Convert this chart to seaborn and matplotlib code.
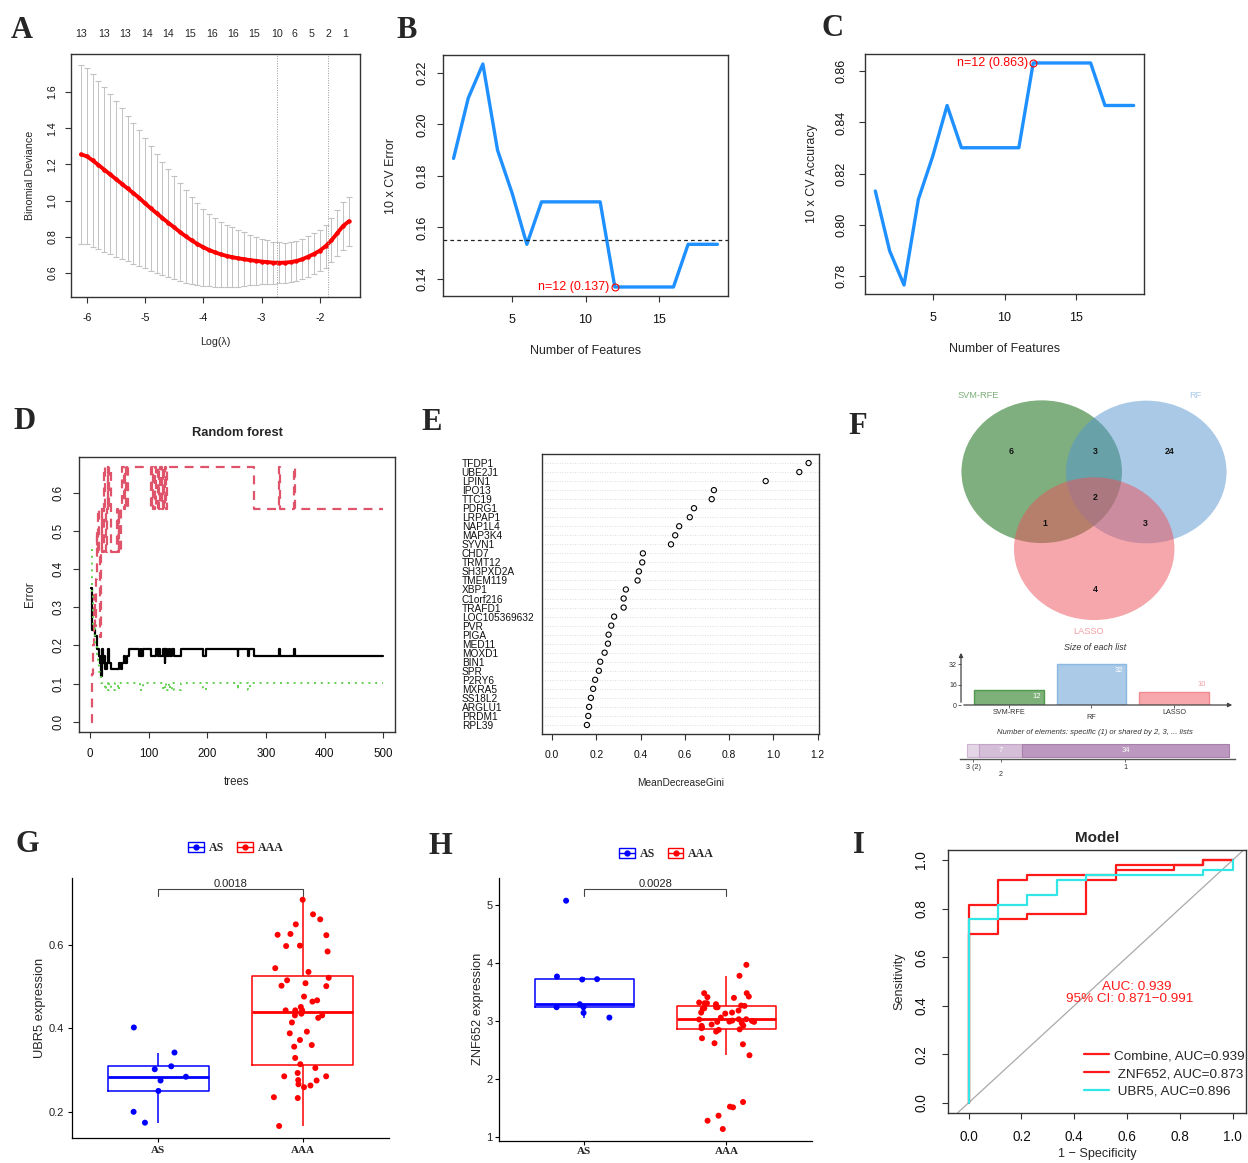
import numpy as np
import pandas as pd
import matplotlib
matplotlib.use("Agg")
import matplotlib.pyplot as plt
import seaborn as sns
from matplotlib.patches import Ellipse, Patch
from matplotlib.lines import Line2D
from matplotlib.legend_handler import HandlerTuple

# ============================ DATA ============================
# A: LASSO 10-fold CV
lasso_loglambda = [-6.1, -6.0, -5.9, -5.8, -5.7, -5.6, -5.5, -5.4, -5.3, -5.2, -5.1, -5.0,
                   -4.9, -4.8, -4.7, -4.6, -4.5, -4.4, -4.3, -4.2, -4.1, -4.0, -3.9, -3.8,
                   -3.7, -3.6, -3.5, -3.4, -3.3, -3.2, -3.1, -3.0, -2.9, -2.8, -2.7, -2.6,
                   -2.5, -2.4, -2.3, -2.2, -2.1, -2.0, -1.9, -1.8, -1.7, -1.6, -1.5]
lasso_cvm = [1.255, 1.245, 1.222, 1.197, 1.171, 1.145, 1.119, 1.093, 1.067, 1.041, 1.015, 0.985,
             0.957, 0.930, 0.903, 0.877, 0.852, 0.826, 0.802, 0.780, 0.760, 0.742, 0.727, 0.714,
             0.703, 0.694, 0.687, 0.681, 0.676, 0.671, 0.667, 0.663, 0.660, 0.657, 0.656, 0.657,
             0.660, 0.666, 0.676, 0.690, 0.705, 0.723, 0.748, 0.780, 0.820, 0.860, 0.885]
lasso_cvsd = [0.495, 0.487, 0.477, 0.466, 0.455, 0.443, 0.430, 0.417, 0.403, 0.389, 0.375, 0.360,
              0.344, 0.328, 0.312, 0.298, 0.285, 0.270, 0.255, 0.240, 0.225, 0.212, 0.200, 0.190,
              0.180, 0.172, 0.165, 0.156, 0.148, 0.140, 0.132, 0.125, 0.120, 0.116, 0.113, 0.111,
              0.110, 0.110, 0.111, 0.112, 0.113, 0.115, 0.118, 0.122, 0.127, 0.132, 0.136]
lasso_df_pos = [-6.09, -5.71, -5.35, -4.97, -4.61, -4.23, -3.85, -3.49, -3.12, -2.74, -2.43, -2.14, -1.86, -1.57]
lasso_df = [13, 13, 13, 14, 14, 15, 16, 16, 15, 10, 6, 5, 2, 1]
lasso_lambda_lines = [-2.74, -1.86]

# B / C: SVM-RFE
rfe_features = [1, 2, 3, 4, 5, 6, 7, 8, 9, 10, 11, 12, 13, 14, 15, 16, 17, 18, 19]
rfe_error = [0.1868, 0.2102, 0.2235, 0.1900, 0.1732, 0.1534, 0.1699, 0.1699, 0.1699, 0.1699,
             0.1699, 0.1368, 0.1368, 0.1368, 0.1368, 0.1368, 0.1534, 0.1534, 0.1534]
rfe_accuracy = [0.8132, 0.7898, 0.7765, 0.8100, 0.8268, 0.8466, 0.8301, 0.8301, 0.8301, 0.8301,
                0.8301, 0.8632, 0.8632, 0.8632, 0.8632, 0.8632, 0.8466, 0.8466, 0.8466]
rfe_error_ref = 0.1552

# D: random forest error vs trees (change points)
oob_tree = [1, 4, 8, 12, 15, 17, 19, 20, 22, 24, 26, 28, 30, 33, 36, 49, 53, 55, 57, 60,
            63, 67, 83, 86, 87, 90, 103, 113, 115, 118, 120, 125, 127, 128, 131, 135, 137, 140, 143, 155,
            193, 198, 252, 253, 270, 271, 279, 322, 323, 348, 349, 500]
oob_err = [0.35, 0.241, 0.224, 0.19, 0.172, 0.155, 0.121, 0.19, 0.155, 0.172,
           0.138, 0.155, 0.19, 0.155, 0.138, 0.155, 0.138, 0.155, 0.172, 0.155,
           0.172, 0.19, 0.172, 0.19, 0.172, 0.19, 0.172, 0.19, 0.172, 0.19,
           0.172, 0.19, 0.155, 0.19, 0.172, 0.19, 0.172, 0.19, 0.172, 0.19,
           0.172, 0.19, 0.172, 0.19, 0.172, 0.19, 0.172, 0.19, 0.172, 0.19, 0.172, 0.172]
as_tree = [1, 3, 5, 7, 9, 10, 11, 12, 13, 15, 16, 17, 18, 20, 21, 23, 25, 27, 28, 30,
           31, 33, 35, 45, 47, 49, 50, 52, 55, 57, 60, 62, 65, 103, 105, 107, 110, 112, 115, 117,
           120, 122, 124, 126, 128, 130, 131, 279, 322, 323, 348, 349, 500]
as_err = [0.0, 0.125, 0.2, 0.333, 0.25, 0.375, 0.5, 0.444, 0.556, 0.444,
          0.333, 0.222, 0.444, 0.556, 0.444, 0.667, 0.556, 0.444, 0.556, 0.667,
          0.556, 0.667, 0.444, 0.556, 0.444, 0.556, 0.444, 0.556, 0.667, 0.556,
          0.667, 0.556, 0.667, 0.556, 0.667, 0.556, 0.667, 0.556, 0.667, 0.556,
          0.667, 0.556, 0.667, 0.556, 0.667, 0.556, 0.667, 0.556, 0.667, 0.556, 0.667, 0.556, 0.556]
aaa_tree = [1, 3, 5, 8, 11, 13, 15, 17, 19, 25, 27, 30, 33, 35, 43, 47, 50, 85, 90, 125,
            127, 130, 135, 137, 140, 143, 155, 193, 198, 252, 253, 270, 272, 500]
aaa_err = [0.45, 0.333, 0.25, 0.2, 0.17, 0.15, 0.13, 0.12, 0.102, 0.082,
           0.102, 0.082, 0.102, 0.082, 0.102, 0.082, 0.102, 0.082, 0.102, 0.082,
           0.102, 0.082, 0.102, 0.082, 0.102, 0.082, 0.102, 0.082, 0.102, 0.082,
           0.102, 0.082, 0.102, 0.102]

# E: MeanDecreaseGini
rf_genes = ["TFDP1", "UBE2J1", "LPIN1", "IPO13", "TTC19", "PDRG1", "LRPAP1", "NAP1L4", "MAP3K4",
            "SYVN1", "CHD7", "TRMT12", "SH3PXD2A", "TMEM119", "XBP1", "C1orf216", "TRAFD1",
            "LOC105369632", "PVR", "PIGA", "MED11", "MOXD1", "BIN1", "SPR", "P2RY6", "MXRA5",
            "SS18L2", "ARGLU1", "PRDM1", "RPL39"]
rf_gini = [1.159, 1.117, 0.965, 0.731, 0.721, 0.641, 0.622, 0.574, 0.556, 0.537, 0.410, 0.407,
           0.392, 0.386, 0.333, 0.323, 0.323, 0.280, 0.267, 0.255, 0.252, 0.237, 0.217, 0.211,
           0.194, 0.185, 0.175, 0.167, 0.163, 0.157]

# F: Venn
list_names = ["SVM-RFE", "RF", "LASSO"]
list_sizes = [12, 32, 10]
venn_counts = [6, 3, 24, 2, 1, 3, 4]   # S only, S&R, R only, all, S&L, R&L, L only
shared_levels = ["3", "2", "1"]
shared_counts = [2, 7, 34]

# G / H: expression
ubr5_as = [0.402, 0.342, 0.302, 0.309, 0.284, 0.275, 0.250, 0.200, 0.174]
ubr5_aaa = [0.708, 0.673, 0.661, 0.649, 0.624, 0.626, 0.623, 0.597, 0.598, 0.584, 0.544, 0.535,
            0.521, 0.515, 0.508, 0.501, 0.502, 0.476, 0.467, 0.464, 0.451, 0.443, 0.443, 0.443,
            0.435, 0.431, 0.431, 0.425, 0.414, 0.392, 0.388, 0.372, 0.356, 0.360, 0.329, 0.314,
            0.305, 0.293, 0.285, 0.285, 0.275, 0.276, 0.266, 0.263, 0.259, 0.233, 0.235, 0.166]
znf_as = [5.075, 3.770, 3.718, 3.724, 3.293, 3.241, 3.241, 3.144, 3.063]
znf_aaa = [3.971, 3.782, 3.483, 3.425, 3.483, 3.414, 3.402, 3.322, 3.310, 3.293,
           3.310, 3.270, 3.264, 3.241, 3.241, 3.224, 3.213, 3.184, 3.149, 3.149,
           3.132, 3.063, 3.034, 3.034, 3.011, 2.994, 3.006, 2.989, 2.989, 2.943,
           2.925, 2.920, 2.851, 2.891, 2.822, 2.707, 2.621, 2.603, 2.414, 1.609,
           1.529, 1.517, 1.374, 1.287, 1.144, 2.860, 2.880, 3.030, 2.966]
pvals = ["0.0018", "0.0028"]
bracket_y = [(0.718, 0.734), (5.161, 5.276)]

# I: ROC
roc_combine_fpr = [0, 0, 0.111, 0.111, 0.222, 0.222, 0.556, 0.556, 0.889, 0.889, 1.0]
roc_combine_tpr = [0, 0.816, 0.816, 0.918, 0.918, 0.939, 0.939, 0.980, 0.980, 1.0, 1.0]
roc_znf_fpr = [0, 0, 0.111, 0.111, 0.222, 0.222, 0.444, 0.444, 0.556, 0.556, 0.778, 0.778, 0.889, 0.889, 1.0]
roc_znf_tpr = [0, 0.694, 0.694, 0.755, 0.755, 0.776, 0.776, 0.918, 0.918, 0.959, 0.959, 0.980, 0.980, 1.0, 1.0]
roc_ubr5_fpr = [0, 0, 0.111, 0.111, 0.222, 0.222, 0.333, 0.333, 0.444, 0.444, 0.889, 0.889, 1.0, 1.0]
roc_ubr5_tpr = [0, 0.755, 0.755, 0.816, 0.816, 0.857, 0.857, 0.918, 0.918, 0.939, 0.939, 0.959, 0.959, 1.0]
roc_labels = ["Combine, AUC=0.939", " ZNF652, AUC=0.873", " UBR5, AUC=0.896"]
auc_text = ["AUC: 0.939", "95% CI: 0.871\u22120.991"]

# ============================ STYLE ============================
sns.set_theme(style="white")
plt.rcParams["font.family"] = ["Liberation Sans", "DejaVu Sans"]
plt.rcParams["axes.unicode_minus"] = False

W, H = 1248, 1163
fig = plt.figure(figsize=(W / 100, H / 100), dpi=100)
fig.patch.set_facecolor("white")


def add_ax(x0, y0, x1, y1):
    return fig.add_axes([x0 / W, 1 - y1 / H, (x1 - x0) / W, (y1 - y0) / H])


EDGE = "#333333"
SERIF = ["Liberation Serif", "DejaVu Serif"]


def r_style(ax, fs, padx, pady, rot=True):
    for s in ax.spines.values():
        s.set_visible(True)
        s.set_color(EDGE)
        s.set_linewidth(1.0)
    ax.set_facecolor("white")
    ax.grid(False)
    ax.tick_params(axis="both", direction="out", length=4.3, width=0.8, color=EDGE,
                   labelsize=fs, labelcolor="#111111")
    ax.tick_params(axis="x", bottom=True, top=False, pad=padx)
    ax.tick_params(axis="y", left=True, right=False, pad=pady, labelrotation=90 if rot else 0)
    if rot:
        for t in ax.get_yticklabels():
            t.set_va("center")


def gg_style(ax, padx, pady):
    ax.set_facecolor("white")
    ax.grid(False)
    for s in ["top", "right"]:
        ax.spines[s].set_visible(False)
    for s in ["left", "bottom"]:
        ax.spines[s].set_visible(True)
        ax.spines[s].set_color("black")
        ax.spines[s].set_linewidth(0.9)
    ax.tick_params(axis="both", direction="out", length=2.75, width=0.8, color="black",
                   labelsize=8, labelcolor="#222222")
    ax.tick_params(axis="x", bottom=True, pad=padx)
    ax.tick_params(axis="y", left=True, pad=pady)


def letter(x, y, s):
    fig.text(x / W, 1 - y / H, s, ha="center", va="center", fontsize=22,
             fontweight="bold", family=SERIF)


# ============================ A ============================
axA = add_ax(71, 54, 360, 297)
axA.errorbar(lasso_loglambda, lasso_cvm, yerr=lasso_cvsd, fmt="none", ecolor="#C2C2C2",
             elinewidth=0.7, capsize=2.0, capthick=0.8)
sns.lineplot(x=lasso_loglambda, y=lasso_cvm, color="red", marker="o", markersize=3.2,
             markeredgewidth=0, lw=2.8, ax=axA)
for v in lasso_lambda_lines:
    axA.axvline(v, color="#9A9A9A", lw=0.7, ls=(0, (1, 1.5)))
axA.set_xlim(-6.27, -1.31)
axA.set_ylim(0.467, 1.81)
axA.set_xticks([-6, -5, -4, -3, -2])
axA.set_yticks([0.6, 0.8, 1.0, 1.2, 1.4, 1.6], labels=["0.6", "0.8", "1.0", "1.2", "1.4", "1.6"])
r_style(axA, 7.7, 7, 5.4)
axA.set_xlabel("Log(\u03bb)", fontsize=7.7, labelpad=10)
axA.set_ylabel("Binomial Deviance", fontsize=7.7, labelpad=9)
secA = axA.secondary_xaxis("top")
secA.set_xticks(lasso_df_pos, labels=[str(v) for v in lasso_df])
secA.tick_params(length=0, pad=11, labelsize=7.7)
secA.spines["top"].set_visible(False)

# ============================ B ============================
axB = add_ax(443, 55, 728, 296)
sns.lineplot(x=rfe_features, y=rfe_error, color="#1E90FF", lw=2.4, ax=axB)
axB.axhline(rfe_error_ref, color="#222222", lw=0.9, ls=(0, (3, 2.5)))
ib = int(np.argmin(rfe_error))
axB.plot(rfe_features[ib], rfe_error[ib], "o", mfc="none", mec="red", ms=5, mew=0.8)
axB.annotate(f"n={rfe_features[ib]} ({rfe_error[ib]:.3f})", xy=(rfe_features[ib], rfe_error[ib]),
             xytext=(-4, 0), textcoords="offset points", ha="right", va="center",
             color="red", fontsize=9)
axB.set_xlim(0.28, 19.72)
axB.set_ylim(0.1333, 0.2270)
axB.set_xticks([5, 10, 15])
axB.set_yticks([0.14, 0.16, 0.18, 0.20, 0.22], labels=["0.14", "0.16", "0.18", "0.20", "0.22"])
r_style(axB, 9, 8.6, 6.5)
axB.set_xlabel("Number of Features", fontsize=9, labelpad=14)
axB.set_ylabel("10 x CV Error", fontsize=9, labelpad=14)

# ============================ C ============================
axC = add_ax(865, 54, 1144, 294)
sns.lineplot(x=rfe_features, y=rfe_accuracy, color="#1E90FF", lw=2.4, ax=axC)
ic = int(np.argmax(rfe_accuracy))
axC.plot(rfe_features[ic], rfe_accuracy[ic], "o", mfc="none", mec="red", ms=5, mew=0.8)
axC.annotate(f"n={rfe_features[ic]} ({rfe_accuracy[ic]:.3f})", xy=(rfe_features[ic], rfe_accuracy[ic]),
             xytext=(-4, 0), textcoords="offset points", ha="right", va="center",
             color="red", fontsize=9)
axC.set_xlim(0.28, 19.72)
axC.set_ylim(0.7730, 0.8667)
axC.set_xticks([5, 10, 15])
axC.set_yticks([0.78, 0.80, 0.82, 0.84, 0.86], labels=["0.78", "0.80", "0.82", "0.84", "0.86"])
r_style(axC, 9, 8.6, 8)
axC.set_xlabel("Number of Features", fontsize=9, labelpad=14)
axC.set_ylabel("10 x CV Accuracy", fontsize=9, labelpad=13)

# ============================ D ============================
axD = add_ax(79, 457, 395, 732)
axD.plot(oob_tree, oob_err, drawstyle="steps-post", color="black", lw=1.6)
axD.plot(as_tree, as_err, drawstyle="steps-post", color="#DF536B", lw=1.6, ls=(0, (4, 3)))
axD.plot(aaa_tree, aaa_err, drawstyle="steps-post", color="#61D04F", lw=1.4, ls=(0, (1, 2.5)))
axD.set_xlim(-19, 520)
axD.set_ylim(-0.0267, 0.693)
axD.set_xticks([0, 100, 200, 300, 400, 500])
axD.set_yticks([0.0, 0.1, 0.2, 0.3, 0.4, 0.5, 0.6],
               labels=["0.0", "0.1", "0.2", "0.3", "0.4", "0.5", "0.6"])
r_style(axD, 8.3, 7, 5.8)
axD.set_xlabel("trees", fontsize=8.3, labelpad=12)
axD.set_ylabel("Error", fontsize=8.3, labelpad=12)
axD.set_title("Random forest", fontsize=9.3, fontweight="bold", pad=15)

# ============================ E ============================
axE = add_ax(542, 454, 819, 734)
ypos = np.arange(len(rf_genes), 0, -1)
for yv in ypos:
    axE.axhline(yv, color="#D3D3D3", lw=0.6, ls=(0, (1, 2)))
axE.scatter(rf_gini, ypos, s=14, facecolors="none", edgecolors="black", linewidths=0.8, zorder=3)
axE.set_xlim(-0.046, 1.206)
axE.set_ylim(0, 31)
axE.set_xticks([0.0, 0.2, 0.4, 0.6, 0.8, 1.0, 1.2],
               labels=["0.0", "0.2", "0.4", "0.6", "0.8", "1.0", "1.2"])
r_style(axE, 7.4, 7, 0, rot=False)
axE.set_yticks(ypos, labels=rf_genes)
axE.tick_params(axis="y", length=0, pad=57.8, labelsize=7.3)
for t in axE.get_yticklabels():
    t.set_ha("left")
axE.set_xlabel("MeanDecreaseGini", fontsize=7.3, labelpad=13)

# ============================ F ============================
venn_base = ["#006100", "#5595D1", "#ED5159"]
venn_label_col = ["#7EB07A", "#AACAE8", "#F2A0A6"]
axV = add_ax(860, 380, 1248, 640)
axV.set_xlim(860, 1248)
axV.set_ylim(640, 380)
axV.axis("off")
venn_centers = [(1041.7, 471.7), (1146.3, 472.0), (1094.2, 548.7)]
for (cx, cy), col in zip(venn_centers, venn_base):
    axV.add_patch(Ellipse((cx, cy), 160.5, 142.7, facecolor=col, alpha=0.5, edgecolor="none"))
venn_label_pos = [(1011, 452), (1095, 452), (1170, 452), (1095, 497), (1045, 524), (1145, 524), (1095, 589)]
for (px, py), c in zip(venn_label_pos, venn_counts):
    axV.text(px, py, str(c), ha="center", va="center", fontsize=6.3, fontweight="bold", color="#111111")
name_pos = [(978, 396), (1195, 396), (1088, 631)]
for (px, py), nm, col in zip(name_pos, list_names, venn_label_col):
    axV.text(px, py, nm, ha="center", va="center", fontsize=6.7, color=col)

fig.text(1095 / W, 1 - 647.5 / H, "Size of each list", ha="center", va="center",
         fontsize=6.4, style="italic", color="#333333")
axF2 = add_ax(961, 650, 1235, 705)
bx = np.arange(len(list_names))
bar_fill = ["#7EB07A", "#AACAE8", "#F6A8AC"]
bar_edge = ["#4E9A4A", "#8DB8E0", "#F08A90"]
axF2.bar(bx, list_sizes, width=0.844, color=bar_fill, edgecolor=bar_edge, linewidth=1.0)
axF2.set_xlim(-0.579, 2.739)
axF2.set_ylim(0, 43)
for i, v in enumerate(list_sizes):
    if v >= 12:
        axF2.text(i + 0.335, v - 5.3, str(v), ha="center", va="center", fontsize=5.5, color="white")
    else:
        axF2.text(i + 0.335, v + 6.4, str(v), ha="center", va="center", fontsize=5.5, color=venn_label_col[i])
for s in axF2.spines.values():
    s.set_visible(False)
axF2.set_facecolor("none")
axF2.annotate("", xy=(1.0, 0), xytext=(0, 0), xycoords="axes fraction",
              arrowprops=dict(arrowstyle="-|>", color="#444444", lw=0.9, mutation_scale=6))
axF2.annotate("", xy=(0, 1.0), xytext=(0, 0), xycoords="axes fraction",
              arrowprops=dict(arrowstyle="-|>", color="#444444", lw=0.9, mutation_scale=6))
axF2.set_yticks([0, 16, 32], labels=["0", "16", "32"])
axF2.set_xticks(bx, labels=[""] * len(bx))
axF2.tick_params(axis="y", left=True, length=2, width=0.6, color="#444444", pad=1, labelsize=5, labelcolor="#333333")
axF2.tick_params(axis="x", bottom=True, length=2, width=0.6, color="#444444")
for i, nm in enumerate(list_names):
    off = -9.1 if i % 2 == 1 else -5.3
    axF2.annotate(nm, xy=(i, 0), xycoords=("data", "axes fraction"), xytext=(0, off),
                  textcoords="offset points", ha="center", va="center", fontsize=5.2, color="#333333")

fig.text(1095 / W, 1 - 732.7 / H, "Number of elements: specific (1) or shared by 2, 3, ... lists",
         ha="center", va="center", fontsize=5.5, style="italic", color="#333333")
axF3 = add_ax(960, 738, 1235, 759)
seg_fill = ["#E4D6E6", "#D5BED8", "#BC97BF"]
seg_edge = ["#CDB4D0", "#C3A6C7", "#A880AC"]
lefts = np.concatenate([[0], np.cumsum(shared_counts)[:-1]])
axF3.barh([0.405] * 3, shared_counts, left=lefts, height=0.59, color=seg_fill, edgecolor=seg_edge, linewidth=0.8)
axF3.set_xlim(-1.2, 44.0)
axF3.set_ylim(0, 1)
axF3.set_facecolor("none")
for s in ["top", "right", "left"]:
    axF3.spines[s].set_visible(False)
axF3.spines["bottom"].set_color("#555555")
axF3.spines["bottom"].set_linewidth(1.0)
centers = lefts + np.array(shared_counts) / 2
axF3.set_xticks(centers, labels=[""] * 3)
axF3.set_yticks([])
axF3.tick_params(axis="x", bottom=True, length=2, width=0.6, color="#555555")
for i, (lv, cnt, cx) in enumerate(zip(shared_levels, shared_counts, centers)):
    if cnt >= 5:
        axF3.text(cx, 0.405, str(cnt), ha="center", va="center", fontsize=5.5, color="white")
        lab = lv
    else:
        lab = f"{lv} ({cnt})"
    off = -11 if i % 2 == 1 else -6.3
    axF3.annotate(lab, xy=(cx, 0), xycoords=("data", "axes fraction"), xytext=(0, off),
                  textcoords="offset points", ha="center", va="center", fontsize=5.2, color="#333333")

# ============================ G / H ============================
pal = {"AS": "#0000FF", "AAA": "#FF0000"}
order = ["AS", "AAA"]


def expr_panel(ax, as_vals, aaa_vals, ylabel, ylim, yticks, ylabels, pv, by, seed, leg_xy):
    df = pd.DataFrame({"group": ["AS"] * len(as_vals) + ["AAA"] * len(aaa_vals),
                       "value": list(as_vals) + list(aaa_vals)})
    sns.boxplot(data=df, x="group", y="value", hue="group", order=order, hue_order=order,
                palette=pal, fill=False, width=0.7, whis=1.5, showfliers=False,
                linewidth=1.1, legend=False, ax=ax, medianprops={"linewidth": 2.0},
                capprops={"linewidth": 0})
    np.random.seed(seed)
    sns.stripplot(data=df, x="group", y="value", hue="group", order=order, hue_order=order,
                  palette=pal, jitter=0.2, size=4.3, linewidth=0, legend=False, ax=ax, zorder=4)
    ax.set_xlim(-0.6, 1.6)
    ax.set_ylim(*ylim)
    ax.set_yticks(yticks, labels=ylabels)
    ax.plot([0, 0, 1, 1], [by[0], by[1], by[1], by[0]], color="#444444", lw=0.8, clip_on=False)
    ax.text(0.5, by[1], pv, ha="center", va="bottom", fontsize=8, color="#222222")
    ax.set_xlabel("")
    ax.set_ylabel(ylabel, fontsize=9.25, labelpad=1.8)
    for t in ax.get_xticklabels():
        t.set_fontfamily(SERIF)
        t.set_fontweight("bold")
        t.set_fontsize(8.9)
    handles = [(Patch(facecolor="white", edgecolor=pal[g], linewidth=1.0),
                Line2D([0], [0], color=pal[g], marker="o", markersize=3.5, lw=1.0)) for g in order]
    ax.legend(handles, order, handler_map={tuple: HandlerTuple(ndivide=1)}, loc="center",
              bbox_to_anchor=leg_xy, ncol=2, frameon=False, handlelength=1.3, handleheight=0.9,
              handletextpad=0.4, columnspacing=1.1,
              prop={"family": SERIF, "weight": "bold", "size": 8.6})


axG = add_ax(71.7, 878, 389.3, 1137.7)
expr_panel(axG, ubr5_as, ubr5_aaa, "UBR5 expression", (0.138, 0.760), [0.2, 0.4, 0.6],
           ["0.2", "0.4", "0.6"], pvals[0], bracket_y[0], 7, (0.517, 1.1155))
gg_style(axG, 2.9, 2.8)

axH = add_ax(499, 878, 811.7, 1140.7)
expr_panel(axH, znf_as, znf_aaa, "ZNF652 expression", (0.943, 5.466), [1, 2, 3, 4, 5],
           ["1", "2", "3", "4", "5"], pvals[1], bracket_y[1], 11, (0.536, 1.090))
gg_style(axH, 1.5, 2.0)

# ============================ I ============================
axI = add_ax(948.3, 850, 1246, 1112.7)
axI.axline((0, 0), (1, 1), color="#A9A9A9", lw=0.9)
l1, = axI.plot(roc_combine_fpr, roc_combine_tpr, color="#FF1A1A", lw=1.6)
l2, = axI.plot(roc_znf_fpr, roc_znf_tpr, color="#FF1A1A", lw=1.6)
l3, = axI.plot(roc_ubr5_fpr, roc_ubr5_tpr, color="#30E6E6", lw=1.6)
axI.text(0.636, 0.478, auc_text[0], ha="center", va="center", color="#FF1A1A", fontsize=9.7)
axI.text(0.608, 0.426, auc_text[1], ha="center", va="center", color="#FF1A1A", fontsize=9.7)
axI.set_xlim(-0.077, 1.05)
axI.set_ylim(-0.041, 1.041)
ticks = [0.0, 0.2, 0.4, 0.6, 0.8, 1.0]
tlabs = ["0.0", "0.2", "0.4", "0.6", "0.8", "1.0"]
axI.set_xticks(ticks, labels=tlabs)
axI.set_yticks(ticks, labels=tlabs)
r_style(axI, 9.8, 8, 10)
axI.set_xlabel("1 \u2212 Specificity", fontsize=9.1, labelpad=3)
axI.set_ylabel("Sensitivity", fontsize=9.1, labelpad=6.5)
axI.set_title("Model", fontsize=11, fontweight="bold", pad=6)
axI.legend([l1, l2, l3], roc_labels, loc="upper left", bbox_to_anchor=(0.456, 0.24),
           frameon=False, fontsize=9.7, borderpad=0, borderaxespad=0, handlelength=1.85,
           handletextpad=0.37, labelspacing=0.41)

# ============================ letters ============================
letter(21.7, 31, "A")
letter(406.7, 31, "B")
letter(832.5, 29, "C")
letter(24.5, 421.7, "D")
letter(432, 422, "E")
letter(858, 426.7, "F")
letter(27, 844, "G")
letter(440, 846.7, "H")
letter(858.5, 845.6, "I")

fig.savefig("out.png", dpi=100)
